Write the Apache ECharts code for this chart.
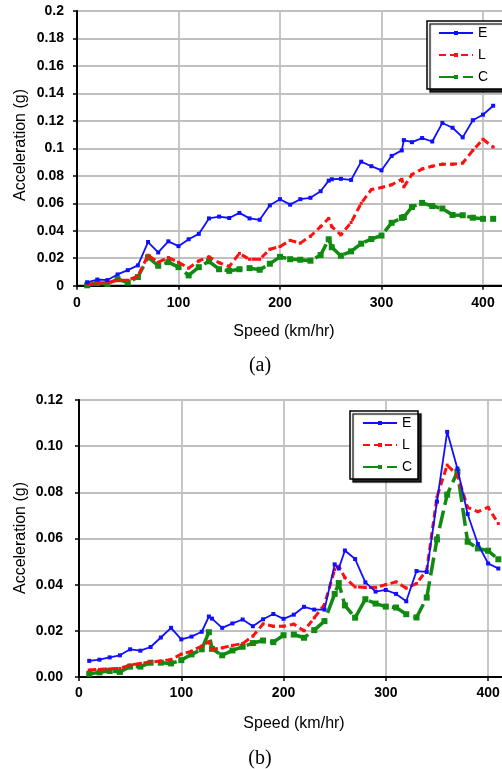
<!DOCTYPE html>
<html>
<head>
<meta charset="utf-8">
<script src="https://cdn.jsdelivr.net/npm/echarts@6/dist/echarts.min.js"></script>
<style>
html,body{margin:0;padding:0;background:#fff;}
#chart{width:502px;height:769px;}
</style>
</head>
<body>
<div id="chart"></div>
<script>
// ---------- Chart (a) ----------
var speedsA = [10,20,30,40,50,60,70,80,90,100,110,120,130,140,150,160,170,180,190,200,210,220,230,240,248,251,260,270,280,290,300,310,320,322,330,340,350,360,370,380,390,400,410];
var E_A = [0.0025,0.0045,0.0041,0.0082,0.0113,0.0148,0.0318,0.0242,0.0323,0.0288,0.0338,0.0377,0.0490,0.0503,0.0493,0.0530,0.0490,0.0480,0.0585,0.0630,0.0590,0.0630,0.0640,0.0688,0.0765,0.0775,0.0778,0.0770,0.0903,0.0870,0.0840,0.0945,0.0985,0.1060,0.1045,0.1075,0.1050,0.1185,0.1150,0.1080,0.1205,0.1245,0.1310];
var L_A = [0.0008,0.0020,0.0022,0.0040,0.0040,0.0070,0.0222,0.0170,0.0205,0.0170,0.0128,0.0180,0.0210,0.0167,0.0140,0.0235,0.0192,0.0192,0.0265,0.0285,0.0330,0.0310,0.0360,0.0430,0.0490,0.0430,0.0370,0.0460,0.0600,0.0700,0.0715,0.0735,0.0775,0.0720,0.0810,0.0850,0.0870,0.0885,0.0885,0.0893,0.0985,0.1066,0.1010];
var C_A = [0.0003,0.0020,0.0013,0.0047,0.0023,0.0063,0.0207,0.0145,0.0172,0.0135,0.0075,0.0135,0.0178,0.0120,0.0108,0.0120,0.0128,0.0116,0.0160,0.0210,0.0193,0.0189,0.0182,0.0223,0.0338,0.0280,0.0218,0.0250,0.0306,0.0340,0.0365,0.0458,0.0494,0.0500,0.0573,0.0603,0.0580,0.0562,0.0515,0.0513,0.0495,0.0487,0.0487];

// ---------- Chart (b) ----------
var speedsB = [10,20,30,40,50,60,70,80,90,100,110,120,127,130,140,150,160,170,180,190,200,210,220,230,240,250,254,260,270,280,290,300,310,320,330,340,350,360,370,380,390,400,410];
var E_B = [0.0070,0.0075,0.0085,0.0094,0.0120,0.0114,0.0130,0.0171,0.0213,0.0163,0.0175,0.0196,0.0262,0.0253,0.0213,0.0232,0.0249,0.0220,0.0250,0.0273,0.0252,0.0270,0.0304,0.0292,0.0292,0.0488,0.0470,0.0548,0.0511,0.0410,0.0370,0.0377,0.0360,0.0328,0.0459,0.0455,0.0760,0.1062,0.0903,0.0706,0.0576,0.0492,0.0470];
var L_B = [0.0030,0.0033,0.0035,0.0037,0.0052,0.0059,0.0065,0.0069,0.0076,0.0099,0.0112,0.0134,0.0153,0.0120,0.0126,0.0137,0.0145,0.0177,0.0230,0.0220,0.0220,0.0229,0.0200,0.0256,0.0314,0.0465,0.0480,0.0430,0.0390,0.0388,0.0388,0.0400,0.0412,0.0385,0.0405,0.0463,0.0780,0.0918,0.0874,0.0735,0.0716,0.0735,0.0665];
var C_B = [0.0014,0.0020,0.0026,0.0022,0.0045,0.0045,0.0062,0.0062,0.0059,0.0073,0.0098,0.0120,0.0194,0.0122,0.0094,0.0115,0.0131,0.0147,0.0158,0.0151,0.0181,0.0184,0.0170,0.0203,0.0242,0.0360,0.0407,0.0310,0.0257,0.0337,0.0318,0.0305,0.0301,0.0272,0.0258,0.0344,0.0596,0.0790,0.0889,0.0586,0.0557,0.0547,0.0510];

var seriesNames = ['E','L','C'];
var xTitle = 'Speed (km/hr)';
var yTitle = 'Acceleration (g)';
var captions = ['(a)','(b)'];

var FONT = 'Liberation Sans, Arial, sans-serif';
var BLUE = '#1010ff', RED = '#ff1010', GREEN = '#108a10';

function pairs(xs, ys){ return xs.map(function(x,i){ return [x, ys[i]]; }); }

function makeSeries(idx, xs, e, l, c){
  return [
    {name:'E', type:'line', xAxisIndex:idx, yAxisIndex:idx, data:pairs(xs,e),
     symbol:'rect', symbolSize:4, showAllSymbol:true, color:BLUE,
     lineStyle:{color:BLUE, width:1.8}, itemStyle:{color:BLUE}, z:4},
    {name:'L', type:'line', xAxisIndex:idx, yAxisIndex:idx, data:pairs(xs,l),
     symbol:'rect', symbolSize:3, showAllSymbol:true, color:RED,
     lineStyle:{color:RED, width:3, type:[7,4]}, itemStyle:{color:RED}, z:3},
    {name:'C', type:'line', xAxisIndex:idx, yAxisIndex:idx, data:pairs(xs,c),
     symbol:'rect', symbolSize:6, showAllSymbol:true, color:GREEN,
     lineStyle:{color:GREEN, width:3.5, type:[18,6]}, itemStyle:{color:GREEN}, z:2}
  ];
}

function xAxisCfg(idx){
  return {type:'value', gridIndex:idx, min:0, max:440, interval:100,
    axisLine:{show:true, onZero:false, lineStyle:{color:'#000', width:2}},
    axisTick:{show:true, length:4, lineStyle:{color:'#000', width:1.5}},
    axisLabel:{color:'#000', fontWeight:'bold', fontSize:14, fontFamily:FONT, margin:idx===0?10:9,
      formatter:function(v){ return v % 100 === 0 ? String(v) : ''; }},
    splitLine:{show:true, lineStyle:{color:'#c0c0c0', width:1.8}}};
}
function yAxisCfg(idx, max, digits, margin){
  return {type:'value', gridIndex:idx, min:0, max:max, interval:0.02,
    axisLine:{show:true, lineStyle:{color:'#000', width:2}},
    axisTick:{show:true, length:4, lineStyle:{color:'#000', width:1.5}},
    axisLabel:{color:'#000', fontWeight:'bold', fontSize:14, fontFamily:FONT, margin:margin,
      formatter:function(v){ return digits ? v.toFixed(digits) : String(+v.toFixed(2)); }},
    splitLine:{show:true, lineStyle:{color:'#c0c0c0', width:1.8}}};
}
function legendCfg(left, top){
  return {orient:'vertical', left:left, top:top, data:seriesNames, selectedMode:false,
    itemWidth:34, itemHeight:5, itemGap:8, padding:0, z:20,
    textStyle:{color:'#000', fontSize:14, fontFamily:FONT}};
}
function box(x, y, w, h){
  return {type:'rect', z:15, shape:{x:x, y:y, width:w, height:h},
    style:{fill:'#fff', stroke:'#000', lineWidth:1.5,
      shadowColor:'rgba(0,0,0,0.85)', shadowOffsetX:3, shadowOffsetY:3, shadowBlur:1}};
}
function txt(text, x, y, size, family, rot){
  return {type:'text', x:x, y:y, rotation:rot||0, z:100,
    style:{text:text, fill:'#000', font:size+'px '+family, textAlign:'center', textVerticalAlign:'middle'}};
}

var option = {
  animation:false,
  backgroundColor:'#fff',
  grid:[
    {left:77, top:11, width:446.6, height:274.7, outerBoundsMode:'none', containLabel:false, show:true, borderColor:'#000', borderWidth:2, backgroundColor:'#fff'},
    {left:79, top:400, width:450, height:277, outerBoundsMode:'none', containLabel:false, show:true, borderColor:'#000', borderWidth:2, backgroundColor:'#fff'}
  ],
  xAxis:[xAxisCfg(0), xAxisCfg(1)],
  yAxis:[yAxisCfg(0, 0.2, 0, 13), yAxisCfg(1, 0.12, 2, 16)],
  legend:[legendCfg(438, 26), legendCfg(362, 416)],
  series: makeSeries(0, speedsA, E_A, L_A, C_A).concat(makeSeries(1, speedsB, E_B, L_B, C_B)),
  graphic:[
    box(427, 21, 82, 68),
    box(350, 411, 68, 68),
    txt(yTitle, 21, 145, 16, FONT, Math.PI/2),
    txt(yTitle, 21, 538, 16, FONT, Math.PI/2),
    txt(xTitle, 284, 332, 16, FONT),
    txt(xTitle, 294, 724, 16, FONT),
    txt(captions[0], 260, 366, 20, 'Liberation Serif, Times New Roman, serif'),
    txt(captions[1], 260, 759, 20, 'Liberation Serif, Times New Roman, serif')
  ]
};

var chart = echarts.init(document.getElementById('chart'), null, {renderer:'canvas'});
chart.setOption(option);
</script>
</body>
</html>
